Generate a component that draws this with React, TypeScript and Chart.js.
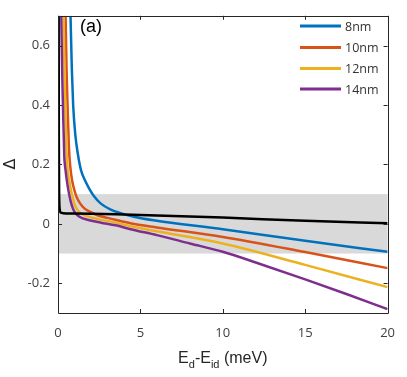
import React, { useEffect, useRef } from 'react';
import { Chart, registerables } from 'chart.js';

Chart.register(...registerables);

// ---- data ----
const xTickValues = [0, 5, 10, 15, 20];
const yTickValues = [-0.2, 0, 0.2, 0.4, 0.6];
const seriesLabels = ['8nm', '10nm', '12nm', '14nm'];
const seriesColors = ['#0072BD', '#D95319', '#EDB120', '#7E2F8E'];
const bandLow = -0.1;
const bandHigh = 0.1;

const blackX = [0.04, 0.05, 0.07, 0.1, 0.16, 0.3, 1, 3.5, 10, 15, 20];
const blackY = [0.7, 0.3, 0.1, 0.05, 0.038, 0.036, 0.035, 0.032, 0.021, 0.01, 0.002];

const blueX = [0.76, 0.84, 0.92, 1.05, 1.22, 1.4, 1.65, 1.9, 2.2, 2.6, 3.2, 3.8, 4.6, 5.8, 10, 15, 20];
const blueY = [0.7, 0.52, 0.4, 0.3, 0.23, 0.18, 0.145, 0.118, 0.092, 0.068, 0.048, 0.036, 0.024, 0.012, -0.018, -0.057, -0.094];

const redX = [0.46, 0.52, 0.58, 0.66, 0.75, 0.86, 1.0, 1.15, 1.35, 1.6, 1.9, 2.4, 3.0, 3.6, 4.4, 6, 10, 15, 20];
const redY = [0.7, 0.52, 0.4, 0.26, 0.19, 0.145, 0.112, 0.088, 0.068, 0.052, 0.042, 0.029, 0.02, 0.012, 0.002, -0.012, -0.044, -0.095, -0.149];

const yellowX = [0.34, 0.39, 0.44, 0.52, 0.6, 0.7, 0.8, 0.92, 1.05, 1.2, 1.45, 1.8, 2.5, 3.5, 4.4, 6, 10, 15, 20];
const yellowY = [0.7, 0.52, 0.4, 0.24, 0.175, 0.14, 0.11, 0.082, 0.06, 0.045, 0.033, 0.025, 0.015, 0.004, -0.008, -0.025, -0.066, -0.138, -0.213];

const purpleX = [0.2, 0.25, 0.3, 0.38, 0.46, 0.54, 0.64, 0.76, 0.9, 1.05, 1.3, 1.9, 2.6, 3.5, 4.4, 6, 8, 10, 12, 15, 17.5, 20];
const purpleY = [0.7, 0.52, 0.4, 0.23, 0.18, 0.145, 0.11, 0.078, 0.052, 0.036, 0.024, 0.012, 0.004, -0.005, -0.018, -0.038, -0.066, -0.094, -0.13, -0.187, -0.236, -0.287];

const zip = (xs: number[], ys: number[]) => xs.map((x, i) => ({ x, y: ys[i] }));

const TICK_FONT = { family: '"Open Sans", sans-serif', size: 13 };

const bandPlugin = {
  id: 'band',
  beforeDatasetsDraw(chart: any) {
    const { ctx, chartArea, scales } = chart;
    const y1 = scales.y.getPixelForValue(bandHigh);
    const y2 = scales.y.getPixelForValue(bandLow);
    ctx.save();
    ctx.fillStyle = '#d9d9d9';
    ctx.fillRect(chartArea.left, y1, chartArea.right - chartArea.left, y2 - y1);
    ctx.restore();
  },
};

const framePlugin = {
  id: 'frame',
  afterDatasetsDraw(chart: any) {
    const { ctx, chartArea, scales } = chart;
    const { left, right, top, bottom } = chartArea;
    ctx.save();
    ctx.strokeStyle = '#262626';
    ctx.lineWidth = 1;
    ctx.beginPath();
    ctx.rect(Math.round(left) + 0.5, Math.round(top) + 0.5, Math.round(right - left), Math.round(bottom - top));
    ctx.stroke();
    const tl = 4;
    ctx.beginPath();
    xTickValues.forEach((v) => {
      const x = Math.round(scales.x.getPixelForValue(v)) + 0.5;
      ctx.moveTo(x, bottom);
      ctx.lineTo(x, bottom - tl);
      ctx.moveTo(x, top);
      ctx.lineTo(x, top + tl);
    });
    yTickValues.forEach((v) => {
      const y = Math.round(scales.y.getPixelForValue(v)) + 0.5;
      ctx.moveTo(left, y);
      ctx.lineTo(left + tl, y);
      ctx.moveTo(right, y);
      ctx.lineTo(right - tl, y);
    });
    ctx.stroke();
    ctx.restore();
  },
  afterDraw(chart: any) {
    const { ctx, chartArea } = chart;
    ctx.save();
    // panel label
    ctx.fillStyle = '#000';
    ctx.font = '18px "Liberation Sans", Arial, sans-serif';
    ctx.textBaseline = 'middle';
    ctx.textAlign = 'left';
    ctx.fillText('(a)', 80, 27);

    // legend
    const rows = [26, 47.5, 68.5, 89];
    ctx.font = '12.5px "Open Sans", sans-serif';
    seriesLabels.forEach((lab, i) => {
      ctx.strokeStyle = seriesColors[i];
      ctx.lineWidth = 3;
      ctx.beginPath();
      ctx.moveTo(300, rows[i]);
      ctx.lineTo(341, rows[i]);
      ctx.stroke();
      ctx.fillStyle = '#333';
      ctx.fillText(lab, 345, rows[i] + 1);
    });

    // y title (rotated delta)
    ctx.save();
    ctx.translate(11, 164);
    ctx.rotate(-Math.PI / 2);
    ctx.textAlign = 'center';
    ctx.textBaseline = 'middle';
    ctx.fillStyle = '#262626';
    ctx.font = '16px "DejaVu Sans", sans-serif';
    ctx.fillText('Δ', 0, 0);
    ctx.restore();

    // x title with subscripts
    const big = '16px "Liberation Sans", Arial, sans-serif';
    const small = '11px "Liberation Sans", Arial, sans-serif';
    const parts: [string, boolean][] = [
      ['E', false], ['d', true], ['-E', false], ['id', true], [' (meV)', false],
    ];
    let total = 0;
    parts.forEach(([t, sub]) => {
      ctx.font = sub ? small : big;
      total += ctx.measureText(t).width;
    });
    const cx = (chartArea.left + chartArea.right) / 2;
    let x = cx - total / 2;
    const base = 363;
    ctx.textAlign = 'left';
    ctx.textBaseline = 'alphabetic';
    ctx.fillStyle = '#262626';
    parts.forEach(([t, sub]) => {
      ctx.font = sub ? small : big;
      ctx.fillText(t, x, sub ? base + 5 : base);
      x += ctx.measureText(t).width;
    });
    ctx.restore();
  },
};

export default function App() {
  const ref = useRef<HTMLCanvasElement>(null);
  useEffect(() => {
    if (!ref.current) return;
    const mk = (label: string, xs: number[], ys: number[], color: string, order: number) => ({
      label,
      data: zip(xs, ys),
      borderColor: color,
      backgroundColor: color,
      borderWidth: 2.5,
      pointRadius: 0,
      fill: false,
      cubicInterpolationMode: 'monotone' as const,
      order,
    });
    const chart = new Chart(ref.current, {
      type: 'line',
      data: {
        datasets: [
          mk('ref', blackX, blackY, '#000000', 0),
          mk(seriesLabels[0], blueX, blueY, seriesColors[0], 4),
          mk(seriesLabels[1], redX, redY, seriesColors[1], 3),
          mk(seriesLabels[2], yellowX, yellowY, seriesColors[2], 2),
          mk(seriesLabels[3], purpleX, purpleY, seriesColors[3], 1),
        ],
      },
      options: {
        responsive: false,
        animation: false,
        devicePixelRatio: 1,
        layout: { padding: { top: 11, right: 17, left: 0, bottom: 0 } },
        plugins: { legend: { display: false }, tooltip: { enabled: false } },
        scales: {
          x: {
            type: 'linear',
            min: 0,
            max: 20,
            afterBuildTicks: (s: any) => {
              s.ticks = xTickValues.map((v) => ({ value: v }));
            },
            afterFit: (s: any) => {
              s.height = 64;
            },
            grid: { display: false, drawTicks: false },
            border: { display: false },
            ticks: { font: TICK_FONT, color: '#404040', padding: 12, maxRotation: 0 },
          },
          y: {
            type: 'linear',
            min: -0.3,
            max: 0.7,
            afterBuildTicks: (s: any) => {
              s.ticks = yTickValues.map((v) => ({ value: v }));
            },
            afterFit: (s: any) => {
              s.width = 58;
            },
            grid: { display: false, drawTicks: false },
            border: { display: false },
            ticks: {
              font: TICK_FONT,
              color: '#404040',
              padding: 8,
              callback: (v: any) => String(Math.round(Number(v) * 10) / 10),
            },
          },
        },
      },
      plugins: [bandPlugin, framePlugin],
    });
    return () => chart.destroy();
  }, []);
  return (
    <div style={{ position: 'absolute', left: 0, top: 0, width: 407, height: 377, background: '#fff' }}>
      <canvas ref={ref} width={407} height={377} style={{ display: 'block', width: 407, height: 377 }} />
    </div>
  );
}
